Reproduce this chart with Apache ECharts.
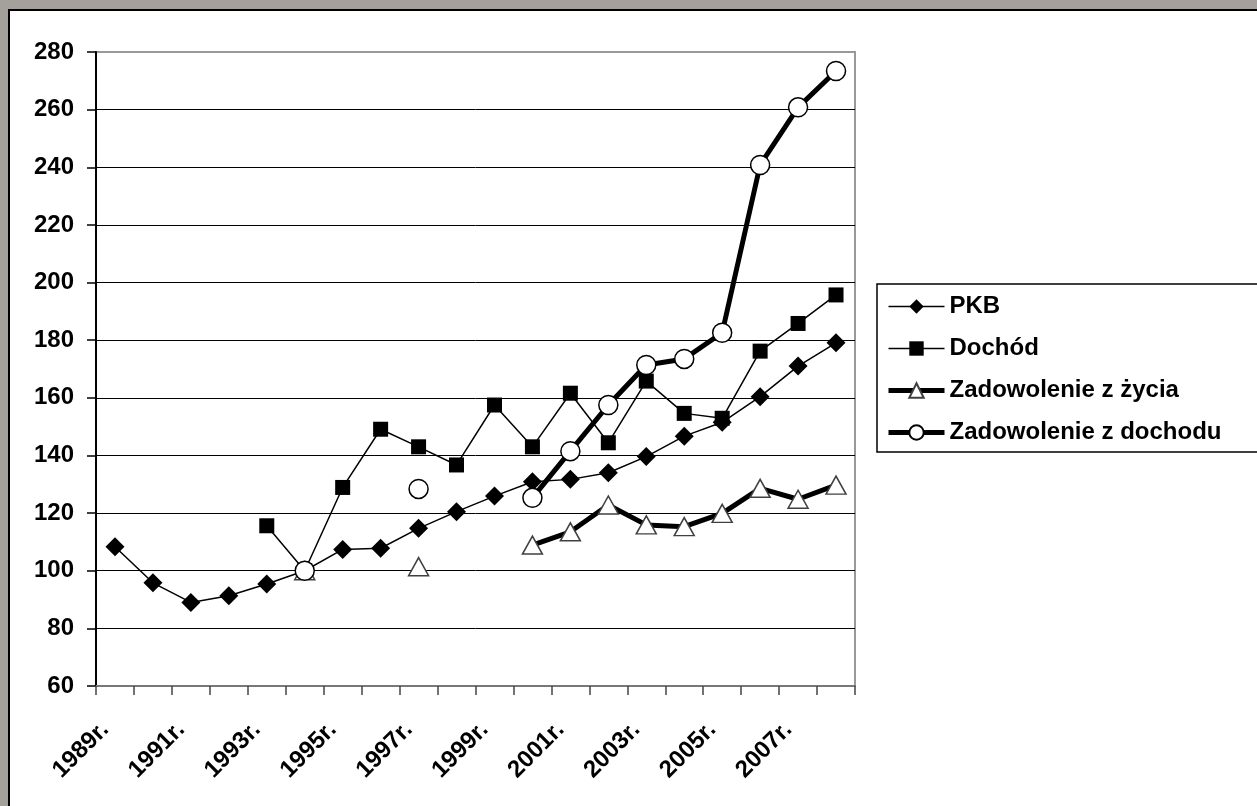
<!DOCTYPE html>
<html><head><meta charset="utf-8">
<script src="https://cdn.jsdelivr.net/npm/echarts@6/dist/echarts.min.js"></script>
<style>
html,body{margin:0;padding:0;background:#a4a19d;width:1257px;height:806px;overflow:hidden}
#frame{position:absolute;left:8px;top:9px;width:1260px;height:810px;background:#fff;border-left:2px solid #000;border-top:2px solid #000}
#chart{position:absolute;left:0;top:0;width:1257px;height:806px}
</style></head><body><div id="frame"></div><div id="chart"></div>
<script>
const years = ['1989r.','1990r.','1991r.','1992r.','1993r.','1994r.','1995r.','1996r.','1997r.','1998r.','1999r.','2000r.','2001r.','2002r.','2003r.','2004r.','2005r.','2006r.','2007r.','2008r.'];
const pkb = [108.3, 95.8, 89.0, 91.3, 95.4, 100, 107.4, 107.8, 114.7, 120.5, 125.9, 130.9, 131.7, 134.0, 139.6, 146.7, 151.5, 160.4, 171.0, 179.1];
const dochod = [null, null, null, null, 115.6, 100, 128.9, 149.1, 143.0, 136.7, 157.5, 143.0, 161.6, 144.4, 165.8, 154.6, 152.9, 176.2, 185.8, 195.7];
const zadZycia = [null, null, null, null, null, 100, null, null, 101.4, null, null, 108.9, 113.5, 122.8, 115.9, 115.3, 119.9, 128.6, 124.8, 129.7];
const zadDochodu = [null, null, null, null, null, 100, null, null, 128.4, null, null, 125.3, 141.5, 157.5, 171.4, 173.5, 182.6, 240.8, 260.8, 273.4];
const seriesNames = ['PKB', 'Dochód', 'Zadowolenie z życia', 'Zadowolenie z dochodu'];

const FONT = '"Liberation Sans", Arial, sans-serif';
const FS = 24;
const chart = echarts.init(document.getElementById('chart'), null, {renderer: 'canvas'});
const splitColors = ['#000','#000','#000','#000','#000','#000','#000','#000','#000','#000','#000','#999'];
chart.setOption({
  animation: false,
  backgroundColor: 'transparent',
  graphic: [{
    type: 'rect', silent: true, z: 0,
    shape: {x: 877, y: 284, width: 420, height: 168},
    style: {fill: 'transparent', stroke: '#000', lineWidth: 1.5}
  }],
  grid: {left: 96, right: 402, top: 52, bottom: 120, show: true, borderColor: '#999', borderWidth: 2, backgroundColor: 'transparent'},
  legend: {
    orient: 'vertical', left: 886, top: 294, padding: 0,
    itemWidth: 56, itemHeight: 18, itemGap: 17, selectedMode: false,
    data: [
      {name: seriesNames[0], lineStyle: {width: 1.5, color: '#000'}},
      {name: seriesNames[1], lineStyle: {width: 1.5, color: '#000'}},
      {name: seriesNames[2], lineStyle: {width: 5, color: '#000'}},
      {name: seriesNames[3], lineStyle: {width: 5, color: '#000'}}
    ],
    textStyle: {fontFamily: FONT, fontWeight: 'bold', fontSize: FS, color: '#000', lineHeight: 25}
  },
  xAxis: {
    type: 'category', data: years, boundaryGap: true,
    axisLine: {lineStyle: {color: '#777', width: 2}},
    axisTick: {show: true, interval: 0, length: 9, lineStyle: {color: '#444', width: 1.5}},
    axisLabel: {interval: 1, rotate: 45, margin: 30, padding: [0, 14, 0, 0], fontFamily: FONT, fontWeight: 'bold', fontSize: FS, color: '#000'},
    splitLine: {show: false}
  },
  yAxis: {
    type: 'value', min: 60, max: 280, interval: 20,
    axisLine: {show: true, lineStyle: {color: '#000', width: 2}},
    axisTick: {show: true, length: 9, lineStyle: {color: '#000', width: 1.5}},
    axisLabel: {margin: 22, fontFamily: FONT, fontWeight: 'bold', fontSize: FS, color: '#000'},
    splitLine: {show: true, lineStyle: {color: splitColors, width: 1}}
  },
  series: [
    {name: seriesNames[0], type: 'line', data: pkb, symbol: 'diamond', symbolSize: 19, showSymbol: true, showAllSymbol: true,
     connectNulls: false, color: '#000', lineStyle: {color: '#000', width: 1.5}, itemStyle: {color: '#000', borderColor: '#000', borderWidth: 0}},
    {name: seriesNames[1], type: 'line', data: dochod, symbol: 'rect', symbolSize: 15, showSymbol: true, showAllSymbol: true,
     connectNulls: false, color: '#000', lineStyle: {color: '#000', width: 1.5}, itemStyle: {color: '#000', borderColor: '#000', borderWidth: 0}},
    {name: seriesNames[2], type: 'line', data: zadZycia, symbol: 'triangle', symbolSize: [20, 18], showSymbol: true, showAllSymbol: true,
     connectNulls: false, color: '#000', lineStyle: {color: '#000', width: 5}, itemStyle: {color: '#fff', borderColor: '#404040', borderWidth: 1.5}},
    {name: seriesNames[3], type: 'line', data: zadDochodu, symbol: 'circle', symbolSize: 19, showSymbol: true, showAllSymbol: true,
     connectNulls: false, color: '#000', lineStyle: {color: '#000', width: 5}, itemStyle: {color: '#fff', borderColor: '#000', borderWidth: 1.5}}
  ]
});
</script></body></html>
